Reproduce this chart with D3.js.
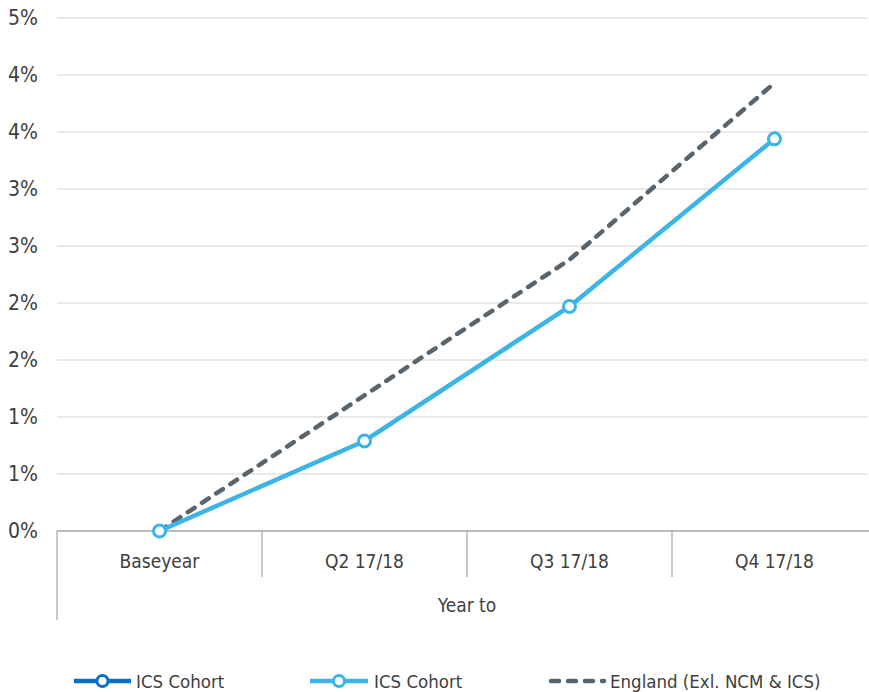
<!DOCTYPE html>
<html>
<head>
<meta charset="utf-8">
<script src="https://cdn.jsdelivr.net/npm/d3@7"></script>
<style>
    body { margin: 0; background: #fff; }
    text { font-family: "Liberation Sans Narrow", "DejaVu Sans Condensed", "Liberation Sans", sans-serif; fill: #404040; }
</style>
</head>
<body>
<svg id="chart" width="869" height="692"></svg>
<script>
"use strict";

// Chart data
const categories = ['Baseyear', 'Q2 17/18', 'Q3 17/18', 'Q4 17/18'];
const icsCohort = [0, 0.79, 1.97, 3.44];
const england = [0, 1.19, 2.38, 3.93];
const yTicks = [0, 0.5, 1, 1.5, 2, 2.5, 3, 3.5, 4, 4.5];
const legendLabels = ['ICS Cohort', 'ICS Cohort', 'England (Exl. NCM & ICS)'];

const colors = {
    darkBlue: '#0b6fc1',
    lightBlue: '#3cb4e6',
    grey: '#59646c',
    grid: '#e2e2e2',
    axis: '#a6a6a6'
};

const svg = d3.select('#chart');

const plotLeft = 57;
const plotRight = 877;
const plotTop = 18;
const plotBottom = 531;

const x = d3.scaleBand()
    .domain(categories)
    .range([plotLeft, plotRight]);

const y = d3.scaleLinear()
    .domain([0, 4.5])
    .range([plotBottom, plotTop]);

// Gridlines
svg.append('g')
    .selectAll('line')
    .data(yTicks.filter(d => d > 0))
    .enter().append('line')
    .attr('x1', plotLeft)
    .attr('x2', 868)
    .attr('y1', d => y(d))
    .attr('y2', d => y(d))
    .attr('stroke', colors.grid)
    .attr('stroke-width', 1.5);

// Y axis labels (Excel rounds 0.5 steps to whole percent)
const yAxis = d3.axisLeft(y)
    .tickValues(yTicks)
    .tickSize(0)
    .tickPadding(19)
    .tickFormat(d => Math.round(d + 1e-9) + '%');

const yG = svg.append('g')
    .attr('transform', 'translate(' + plotLeft + ',0)')
    .call(yAxis)
    .attr('font-family', null)
    .attr('font-size', null);
yG.select('.domain').remove();
yG.selectAll('text')
    .style('font-size', '21px')
    .attr('fill', '#404040');

// X axis: baseline, category separators and outer vertical line
const xG = svg.append('g');
xG.append('line')
    .attr('x1', plotLeft)
    .attr('x2', 869)
    .attr('y1', plotBottom)
    .attr('y2', plotBottom)
    .attr('stroke', colors.axis)
    .attr('stroke-width', 1.5);

xG.selectAll('.sep')
    .data(categories.slice(1))
    .enter().append('line')
    .attr('class', 'sep')
    .attr('x1', d => x(d))
    .attr('x2', d => x(d))
    .attr('y1', plotBottom)
    .attr('y2', 577)
    .attr('stroke', colors.axis)
    .attr('stroke-width', 1.2);

xG.append('line')
    .attr('x1', plotLeft)
    .attr('x2', plotLeft)
    .attr('y1', plotBottom)
    .attr('y2', 620)
    .attr('stroke', colors.axis)
    .attr('stroke-width', 1.2);

xG.selectAll('.cat')
    .data(categories)
    .enter().append('text')
    .attr('class', 'cat')
    .attr('x', d => x(d) + x.bandwidth() / 2)
    .attr('y', 568)
    .attr('text-anchor', 'middle')
    .style('font-size', '19px')
    .text(d => d);

svg.append('text')
    .attr('x', (plotLeft + plotRight) / 2)
    .attr('y', 612)
    .attr('text-anchor', 'middle')
    .style('font-size', '19px')
    .text('Year to');

// Lines
const line = d3.line()
    .x((d, i) => x(categories[i]) + x.bandwidth() / 2)
    .y(d => y(d));

svg.append('path')
    .datum(england)
    .attr('d', line)
    .attr('fill', 'none')
    .attr('stroke', colors.grey)
    .attr('stroke-width', 4.5)
    .attr('stroke-linecap', 'round')
    .attr('stroke-dasharray', '8,9');

svg.append('path')
    .datum(icsCohort)
    .attr('d', line)
    .attr('fill', 'none')
    .attr('stroke', colors.lightBlue)
    .attr('stroke-width', 4.5);

svg.append('g')
    .selectAll('circle')
    .data(icsCohort)
    .enter().append('circle')
    .attr('cx', (d, i) => x(categories[i]) + x.bandwidth() / 2)
    .attr('cy', d => y(d))
    .attr('r', 6)
    .attr('fill', '#fff')
    .attr('stroke', colors.lightBlue)
    .attr('stroke-width', 3);

// Legend
const legendItems = [
    { label: legendLabels[0], color: colors.darkBlue, x0: 74, x1: 131, tx: 136, marker: true },
    { label: legendLabels[1], color: colors.lightBlue, x0: 310, x1: 368, tx: 374, marker: true },
    { label: legendLabels[2], color: colors.grey, x0: 551, x1: 604, tx: 610, marker: false }
];
const ly = 681;

const legend = svg.append('g')
    .selectAll('g')
    .data(legendItems)
    .enter().append('g');

legend.append('line')
    .attr('x1', d => d.x0)
    .attr('x2', d => d.x1)
    .attr('y1', ly)
    .attr('y2', ly)
    .attr('stroke', d => d.color)
    .attr('stroke-width', 4.5)
    .attr('stroke-linecap', d => d.marker ? 'butt' : 'round')
    .attr('stroke-dasharray', d => d.marker ? null : '8,9');

legend.filter(d => d.marker).append('circle')
    .attr('cx', d => (d.x0 + d.x1) / 2)
    .attr('cy', ly)
    .attr('r', 5.5)
    .attr('fill', '#fff')
    .attr('stroke', d => d.color)
    .attr('stroke-width', 3);

legend.append('text')
    .attr('x', d => d.tx)
    .attr('y', ly + 7)
    .style('font-size', '18.5px')
    .text(d => d.label);
</script>
</body>
</html>
